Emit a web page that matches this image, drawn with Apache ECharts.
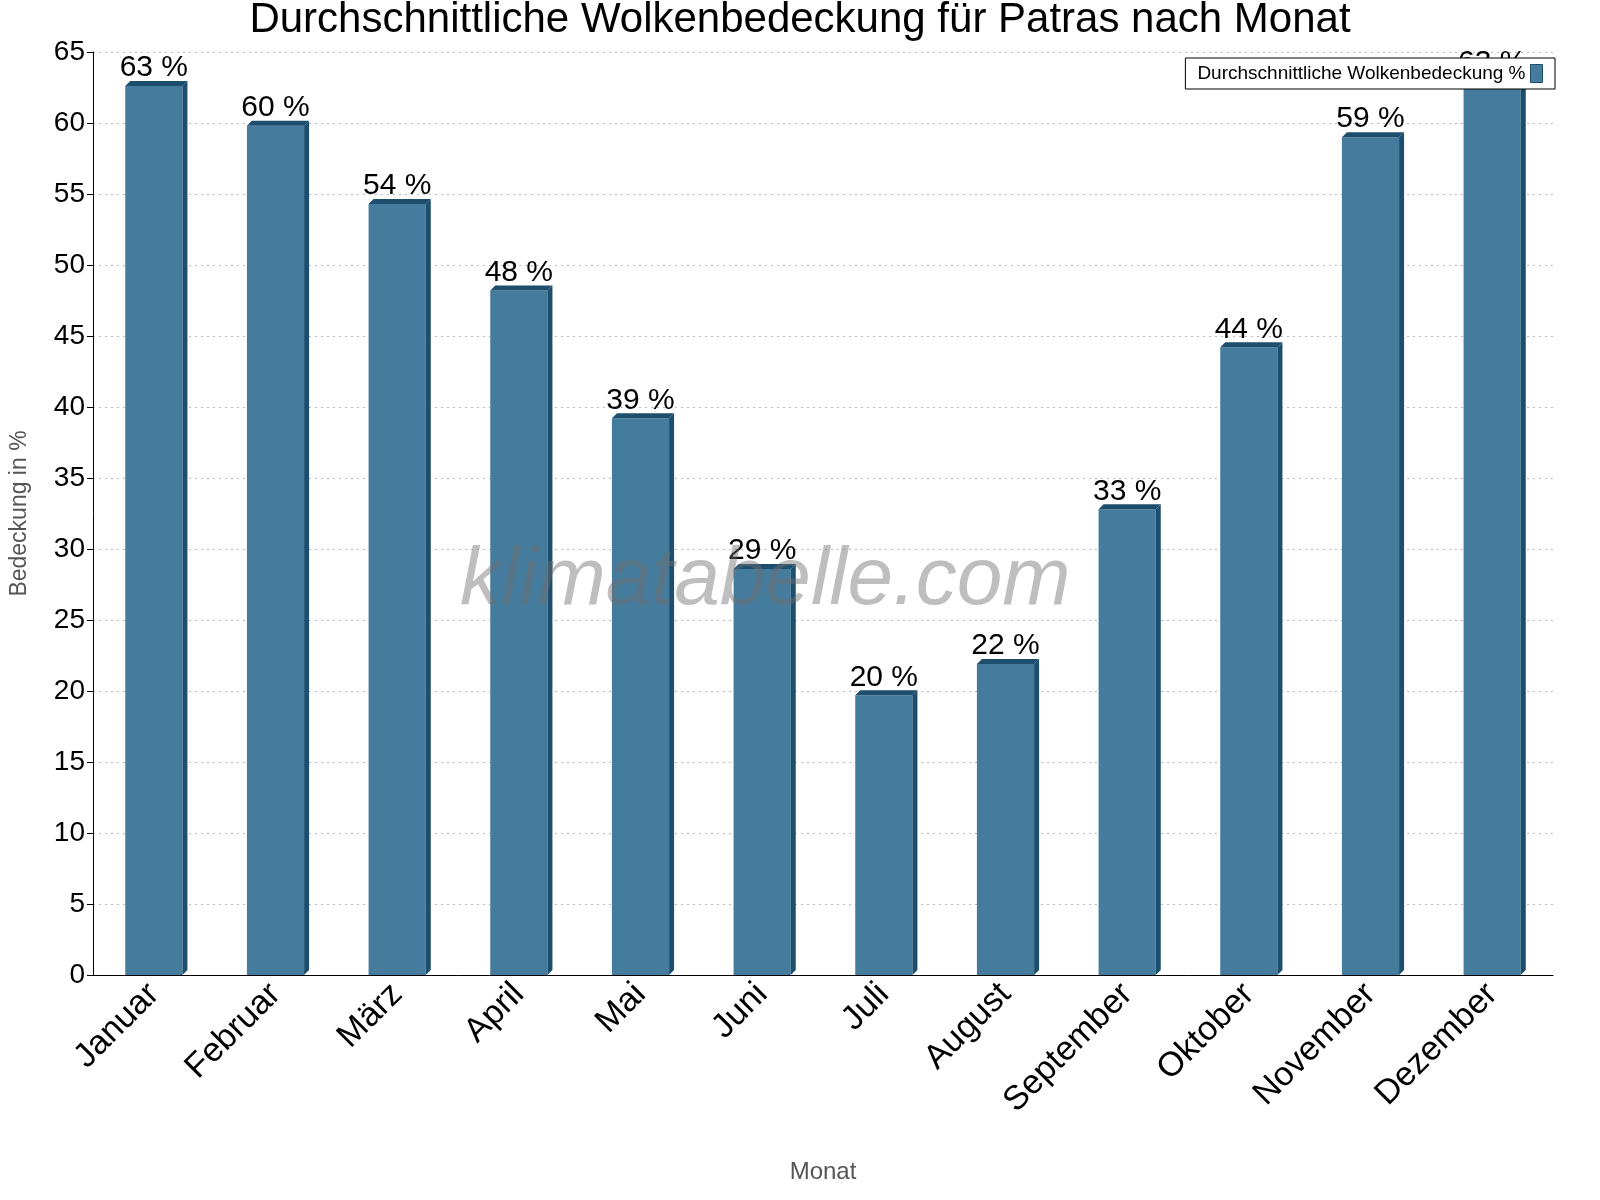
<!DOCTYPE html><html><head><meta charset="utf-8"><script src="https://cdn.jsdelivr.net/npm/echarts@6/dist/echarts.min.js"></script><style>html,body{margin:0;padding:0;overflow:hidden;width:100%;height:100%}</style></head><body><div id="c" style="width:100vw;height:100vh"></div><script>
const categories=['Januar','Februar','März','April','Mai','Juni','Juli','August','September','Oktober','November','Dezember'];
const values=[62.6,59.8,54.3,48.2,39.2,28.6,19.7,21.9,32.8,44.2,59.0,63.0];
const yTicks={min:0,max:65,interval:5};
const ch=echarts.init(document.getElementById('c'));
const F='Liberation Sans, Arial, sans-serif';
ch.setOption({
title:{text:'Durchschnittliche Wolkenbedeckung für Patras nach Monat',left:'center',top:-6,textStyle:{fontFamily:F,fontSize:42,fontWeight:'normal',color:'#000'}},
grid:{left:83,right:47,top:52,bottom:225},
legend:{top:58,right:45,align:'right',borderColor:'#000',borderWidth:1,backgroundColor:'#fff',padding:[6,12],itemWidth:12,itemHeight:18,textStyle:{fontFamily:F,fontSize:19,color:'#000'},data:[{name:'Durchschnittliche Wolkenbedeckung %',icon:'rect',itemStyle:{color:'#457b9d',borderColor:'#1d4e6e',borderWidth:1}}],z:20},
xAxis:{type:'category',data:categories,name:'Monat',nameLocation:'middle',nameGap:185,nameTextStyle:{fontFamily:F,fontSize:24,color:'#555'},axisLine:{lineStyle:{color:'#000'}},axisTick:{length:8,lineStyle:{color:'#000'}},axisLabel:{rotate:45,fontFamily:F,fontSize:34,color:'#000',margin:14}},
yAxis:{type:'value',min:yTicks.min,max:yTicks.max,interval:yTicks.interval,name:'Bedeckung in %',nameLocation:'middle',nameGap:62,nameTextStyle:{fontFamily:F,fontSize:23,color:'#555'},axisLine:{show:true,lineStyle:{color:'#000'}},axisTick:{show:true,length:6,lineStyle:{color:'#000'}},axisLabel:{fontFamily:F,fontSize:28,color:'#000'},splitLine:{lineStyle:{color:'#bbb',type:[2,4]}}},
graphic:[{type:'text',left:460,top:540,z:100,style:{text:'klimatabelle.com',font:'italic 82px Liberation Sans, Arial, sans-serif',fill:'rgba(110,110,110,0.45)'}}],
series:[{name:'Durchschnittliche Wolkenbedeckung %',type:'custom',data:values,z:5,
renderItem:function(p,api){const v=api.value(1);const i=api.value(0);const top=api.coord([i,v]);const base=api.coord([i,0]);const bw=api.size([1,0])[0]*0.47;const x0=top[0]-bw/2,x1=top[0]+bw/2,d=5;
return {type:'group',children:[
{type:'rect',shape:{x:x0,y:top[1],width:bw,height:base[1]-top[1]},style:{fill:'#457b9d'}},
{type:'polygon',shape:{points:[[x1,top[1]],[x1+d,top[1]-d],[x1+d,base[1]-d],[x1,base[1]]]},style:{fill:'#1d4e6e'}},
{type:'polygon',shape:{points:[[x0,top[1]],[x0+d,top[1]-d],[x1+d,top[1]-d],[x1,top[1]]]},style:{fill:'#1d4e6e'}},
{type:'text',style:{text:Math.round(v)+' %',x:top[0],y:top[1]-3,align:'center',verticalAlign:'bottom',font:'30px Liberation Sans, Arial, sans-serif',fill:'#000'}}
]};},encode:{x:0,y:1},itemStyle:{color:'#457b9d'}}]
});
</script></body></html>
